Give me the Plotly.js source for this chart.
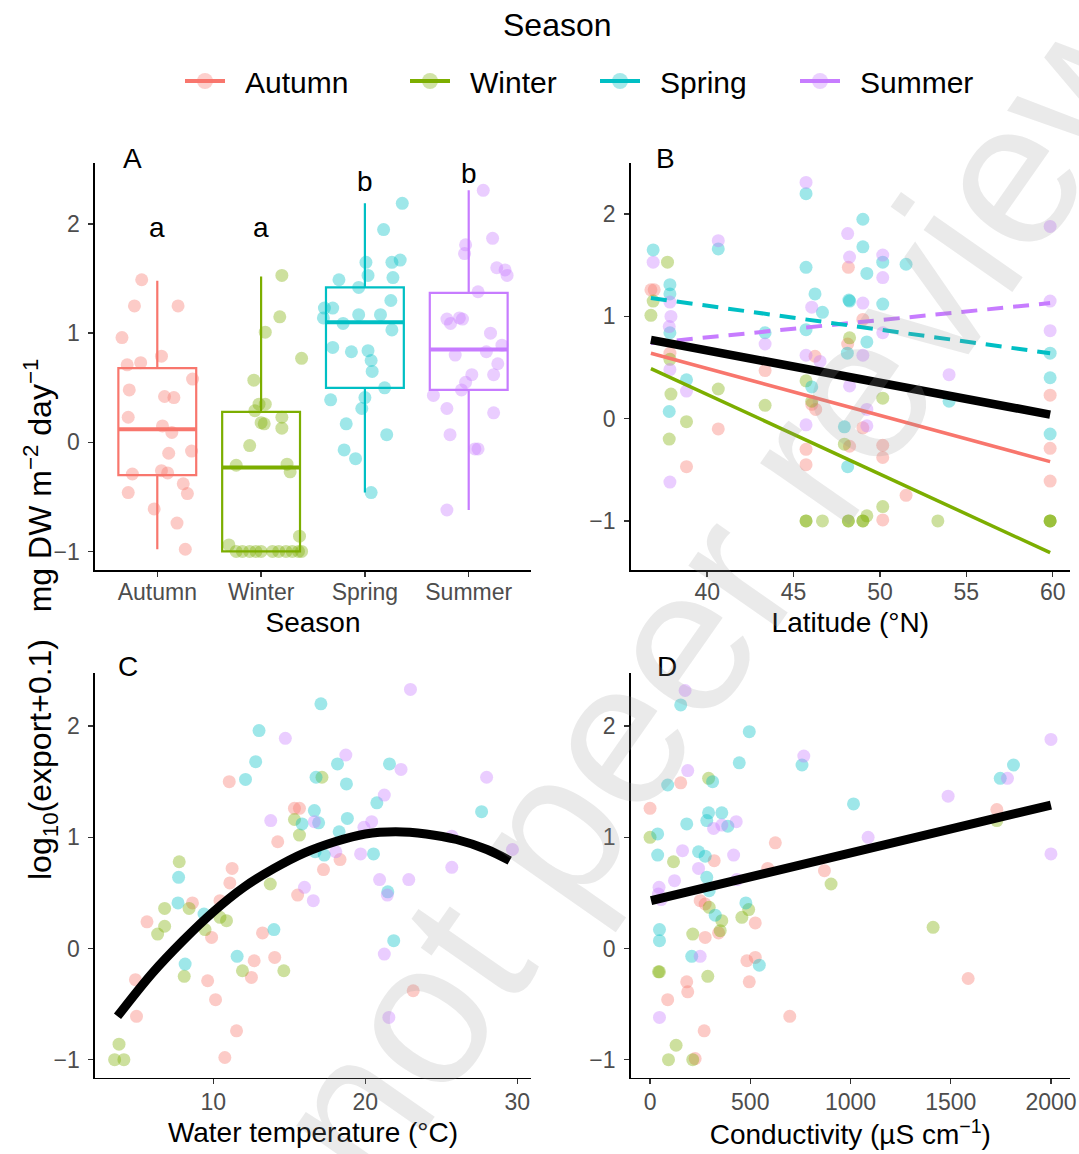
<!DOCTYPE html>
<html><head><meta charset="utf-8">
<script src="https://cdn.plot.ly/plotly-3.0.1.min.js"></script>
<style>html,body{margin:0;padding:0;background:#fff}</style>
</head><body><div id="chart" style="width:1079px;height:1154px"></div>
<script>
const seasons = ['Autumn','Winter','Spring','Summer'];
const colors = ['#F8766D','#7CAE00','#00BFC4','#C77CFF'];

// Panel A: boxplot stats per season
const boxQ1  = [-0.30, -1.00, 0.50, 0.48];
const boxMed = [ 0.12, -0.23, 1.10, 0.85];
const boxQ3  = [ 0.68,  0.28, 1.42, 1.37];
const boxLo  = [-0.98, -1.00, -0.46, -0.62];
const boxHi  = [ 1.48,  1.52, 2.19, 2.31];
const groupLetters = ['a','a','b','b'];
const letterY = [1.97, 1.97, 2.39, 2.46];

// Panel A: jittered points (horizontal jitter offset, value)
const autumnA_dx = [-0.15,-0.22,0.20,-0.34,0.04,-0.29,-0.16,0.34,-0.27,0.07,0.16,-0.28,0.05,0.14,0.33,0.11,-0.24,0.04,0.10,0.25,0.29,-0.28,-0.03,0.19,0.27];
const autumnA_y  = [1.49,1.25,1.25,0.96,0.79,0.71,0.73,0.58,0.48,0.42,0.41,0.23,0.15,0.09,-0.08,-0.10,-0.29,-0.26,-0.28,-0.38,-0.47,-0.46,-0.61,-0.74,-0.98];
const winterA_dx = [0.20,0.18,0.04,0.39,-0.07,-0.02,0.04,-0.06,0.20,0.00,0.03,0.20,-0.11,-0.24,0.25,0.28,0.37,-0.31,-0.24,-0.18,-0.11,-0.05,0.00,0.11,0.17,0.24,0.30,0.36,0.39];
const winterA_y  = [1.53,1.15,1.01,0.77,0.57,0.35,0.35,0.29,0.23,0.18,0.17,0.13,-0.03,-0.21,-0.20,-0.27,-0.86,-0.94,-1,-1,-1,-1,-1,-1,-1,-1,-1,-1,-1];
const springA_dx = [0.36,0.18,0.01,0.26,0.34,0.03,0.27,-0.25,-0.06,-0.39,-0.31,-0.40,-0.21,-0.06,0.15,0.25,0.26,-0.31,-0.13,0.03,0.06,0.07,0.19,-0.33,0.00,-0.03,-0.18,0.21,-0.20,-0.09,0.06];
const springA_y  = [2.19,1.95,1.65,1.65,1.67,1.53,1.51,1.49,1.42,1.23,1.23,1.14,1.09,1.17,1.17,1.30,1.03,0.87,0.83,0.84,0.75,0.65,0.50,0.39,0.41,0.31,0.17,0.07,-0.07,-0.15,-0.46];
const summerA_dx = [0.14,0.23,-0.03,-0.04,0.27,0.35,0.37,0.09,-0.21,-0.175,-0.09,-0.06,0.21,0.32,0.17,-0.13,0.28,0.03,0.24,-0.03,-0.07,-0.34,-0.21,0.24,-0.18,0.06,0.09,-0.21];
const summerA_y  = [2.31,1.87,1.81,1.73,1.60,1.58,1.53,1.38,1.13,1.09,1.14,1.13,1.00,0.89,0.83,0.80,0.72,0.62,0.62,0.55,0.48,0.43,0.31,0.27,0.07,-0.06,-0.06,-0.62];

// Panel B: latitude
const autumnB_lat = [36.74,36.93,37.84,38.8,40.64,43.35,45.72,45.72,46.24,46.05,46.28,48.17,49.01,48.13,48.24,49.01,50.16,50.16,50.16,51.51,59.85,59.85,59.85];
const autumnB_y   = [1.26,1.26,0.64,-0.47,-0.10,0.47,-0.30,-0.45,0.61,0.14,0.09,1.48,0.97,0.73,-0.27,-0.09,-0.26,-0.38,-0.99,-0.75,0.23,-0.29,-0.61];
const winterB_lat = [37.7,36.74,36.87,37.84,37.9,37.8,38.8,40.64,43.35,45.72,46.05,45.72,45.72,46.67,48.17,48.17,49.01,49.01,49.24,50.16,50.16,47.94,48.24,53.35,59.85,59.85,59.85];
const winterB_y   = [1.53,1.01,1.15,0.58,0.24,-0.20,-0.03,0.29,0.13,0.37,0.17,-1,-1,-1,-1,-1,-1,-1,-0.95,0.20,-0.86,-0.25,0.79,-1,-1,-1,-1];
const springB_lat = [36.87,40.64,37.84,37.84,37.84,38.8,37.8,43.35,45.72,45.72,45.72,46.24,46.67,46.05,49.01,49.01,49.24,48.24,48.2,50.16,50.16,49.24,48.11,47.94,48.13,51.51,54.0,59.85,59.85,59.85];
const springB_y   = [1.65,1.66,1.31,1.22,0.84,0.38,0.07,0.84,2.20,1.48,0.87,1.22,1.04,0.31,1.95,1.68,1.42,1.15,1.16,1.53,1.12,0.75,0.64,-0.08,-0.47,1.51,0.17,0.64,0.40,-0.15];
const summerB_lat = [36.87,37.84,37.9,37.8,37.84,38.8,37.84,40.64,43.35,45.72,46.05,45.72,46.53,45.72,48.13,48.24,49.01,49.01,48.24,49.24,49.24,50.16,50.16,50.16,54.0,59.85,59.85,59.85];
const summerB_y   = [1.53,1.14,1.00,0.90,0.48,0.27,-0.62,1.74,0.73,2.31,1.09,0.62,0.56,-0.06,1.81,1.58,1.13,0.62,0.32,0.09,-0.07,1.60,1.38,0.84,0.43,1.88,1.15,0.86];
// Panel B fitted lines (ends)
const latFit     = [36.74, 59.85];
const allFitB    = [0.77, 0.04];
const autumnFitB = [0.64, -0.42];
const winterFitB = [0.49, -1.31];
const springFitB = [1.18, 0.64];
const summerFitB = [0.74, 1.13];

// Panel C: water temperature
const autumnC_t = [11.05,15.34,15.67,14.24,18.34,17.25,11.24,11.09,15.55,8.63,10.44,5.64,9.89,13.24,12.69,14.04,12.51,9.63,4.88,10.15,4.95,11.53,10.76,23.15];
const autumnC_y = [1.50,1.26,1.26,0.96,0.80,0.71,0.72,0.59,0.48,0.41,0.43,0.24,0.10,0.14,-0.11,-0.08,-0.26,-0.29,-0.28,-0.46,-0.61,-0.74,-0.98,-0.38];
const winterC_t = [7.76,17.15,15.34,15.67,13.75,6.8,8.41,6.8,6.34,9.46,10.44,10.87,8.09,11.92,14.64,3.80,3.51,4.12];
const winterC_y = [0.78,1.54,1.16,1.02,0.58,0.36,0.36,0.20,0.13,0.17,0.28,0.25,-0.25,-0.20,-0.20,-0.86,-1.0,-1.0];
const springC_t = [17.08,13.01,12.79,18.17,12.12,16.76,18.76,21.59,16.65,16.93,15.84,18.82,20.76,27.65,18.28,17.30,16.7,20.54,7.72,7.68,9.39,13.99,11.57,8.15,21.48,21.87];
const springC_y = [2.20,1.96,1.68,1.66,1.52,1.54,1.48,1.66,1.24,1.13,1.12,1.17,1.31,1.23,1.05,0.84,0.87,0.85,0.64,0.41,0.31,0.17,-0.07,-0.14,0.51,0.07];
const summerC_t = [22.97,14.74,18.72,22.35,27.98,21.25,13.78,16.65,20.42,19.91,25.69,18.06,19.69,29.68,25.69,20.94,22.86,16.0,21.45,16.58,21.25,21.55];
const summerC_y = [2.33,1.89,1.74,1.61,1.54,1.38,1.15,1.14,1.14,1.09,1.01,0.87,0.85,0.89,0.73,0.62,0.62,0.55,0.48,0.43,-0.05,-0.62];
// Panel C fitted curve
const tempCurve = [3.7,6,8,10,12,14,16,18,20,22,24,26,28,29.5];
const fitC      = [-0.61,-0.22,0.07,0.33,0.55,0.72,0.86,0.96,1.03,1.05,1.03,0.98,0.89,0.79];

// Panel D: conductivity
const autumnD_c = [0,153,625,320,587,870,1730,250,275,525,342,275,483,525,495,1587,183,188,88,697,270,225];
const autumnD_y = [1.26,1.49,0.95,0.79,0.72,0.70,1.25,0.43,0.40,0.23,0.14,0.10,-0.11,-0.08,-0.30,-0.27,-0.30,-0.39,-0.46,-0.61,-0.74,-0.99];
const winterD_c = [0,292,117,903,492,458,358,350,213,295,1730,1412,42,47,288,130,92,213];
const winterD_y = [1.00,1.53,0.78,0.58,0.35,0.28,0.25,0.16,0.13,0.37,1.15,0.19,-0.21,-0.21,-0.25,-0.87,-1.0,-1.0];
const springD_c = [153,495,445,758,88,312,1747,1813,1015,292,358,283,183,388,38,38,242,275,283,295,325,478,47,47,208,545];
const springD_y = [2.19,1.95,1.67,1.65,1.47,1.50,1.53,1.65,1.30,1.22,1.22,1.15,1.12,1.10,1.03,0.84,0.87,0.83,0.64,0.52,0.30,0.41,0.17,0.07,-0.07,-0.15];
const summerD_c = [175,188,767,1487,1783,2000,1088,2000,430,417,317,162,122,242,45,42,55,433,250,47,358];
const summerD_y = [2.32,1.60,1.73,1.37,1.53,1.88,1.00,0.85,1.14,0.84,1.08,0.88,0.61,0.72,0.55,0.49,0.44,0.62,-0.07,-0.62,1.11];
const condFit = [5, 2000];
const fitD    = [0.43, 1.29];

const FONT = 'Liberation Sans, Arial, Helvetica, sans-serif';
const PT_OP = 0.38, PT_SIZE = 13, BOX_W = 0.75;

function pts(x, y, i, ax) {
  return {type:'scatter', mode:'markers', x:x, y:y, xaxis:'x'+ax, yaxis:'y'+ax,
    marker:{color:colors[i], opacity:PT_OP, size:PT_SIZE, line:{width:0}},
    showlegend:false, hoverinfo:'skip'};
}
function line(x, y, color, width, dash, ax, shape) {
  return {type:'scatter', mode:'lines', x:x, y:y, xaxis:'x'+ax, yaxis:'y'+ax,
    line:{color:color, width:width, dash:dash||'solid', shape:shape||'linear'},
    showlegend:false, hoverinfo:'skip'};
}

const traces = [];
seasons.forEach((s,i)=>{
  traces.push({type:'box', x:[i+1], q1:[boxQ1[i]], median:[boxMed[i]], q3:[boxQ3[i]],
    lowerfence:[boxLo[i]], upperfence:[boxHi[i]], width:BOX_W, whiskerwidth:0,
    line:{color:colors[i], width:2.2}, fillcolor:'rgba(0,0,0,0)', boxpoints:false,
    xaxis:'x', yaxis:'y', showlegend:false, hoverinfo:'skip'});
  // thicker median bar, as in the original boxplot
  traces.push(line([i+1-BOX_W/2, i+1+BOX_W/2], [boxMed[i], boxMed[i]], colors[i], 4, 'solid', ''));
});
const aDx = [autumnA_dx, winterA_dx, springA_dx, summerA_dx];
const aY  = [autumnA_y, winterA_y, springA_y, summerA_y];
seasons.forEach((s,i)=>{
  traces.push(pts(aDx[i].map(d=>i+1+d), aY[i], i, ''));
});
[[autumnB_lat,autumnB_y],[winterB_lat,winterB_y],[springB_lat,springB_y],[summerB_lat,summerB_y]]
  .forEach((d,i)=>traces.push(pts(d[0], d[1], i, '2')));
traces.push(line(latFit, autumnFitB, colors[0], 3.5, 'solid', '2'));
traces.push(line(latFit, winterFitB, colors[1], 3.5, 'solid', '2'));
traces.push(line(latFit, summerFitB, colors[3], 4, '16px,10px', '2'));
traces.push(line(latFit, springFitB, colors[2], 4, '16px,10px', '2'));
traces.push(line(latFit, allFitB, '#000', 8.5, 'solid', '2'));
[[autumnC_t,autumnC_y],[winterC_t,winterC_y],[springC_t,springC_y],[summerC_t,summerC_y]]
  .forEach((d,i)=>traces.push(pts(d[0], d[1], i, '3')));
traces.push(line(tempCurve, fitC, '#000', 9, 'solid', '3', 'spline'));
[[autumnD_c,autumnD_y],[winterD_c,winterD_y],[springD_c,springD_y],[summerD_c,summerD_y]]
  .forEach((d,i)=>traces.push(pts(d[0], d[1], i, '4')));
traces.push(line(condFit, fitD, '#000', 9, 'solid', '4'));
// Legend entries (one small legend per season so each sits where the original puts it)
const legendIds = ['legend','legend2','legend3','legend4'];
seasons.forEach((s,i)=>{
  traces.push({type:'scatter', mode:'lines+markers', name:'\u2002'+s, x:[null], y:[null], xaxis:'x2', yaxis:'y2',
    legend:legendIds[i],
    line:{color:colors[i], width:4}, marker:{color:colors[i], opacity:0.35, size:17}, showlegend:true});
});

const W = 1079, H = 1154;
const colL = [95/W, 531/W], colR = [630.7/W, 1070/W];
const rowT = [1-570/H, 1-163/H], rowB = [1-1077.5/H, 1-672.7/H];

function xax(domain, range, extra) {
  return Object.assign({domain:domain, range:range, showline:true, linecolor:'#000', linewidth:1.6,
    ticks:'outside', ticklen:5, tickwidth:1.5, tickcolor:'#333', showgrid:false, zeroline:false,
    tickfont:{size:23, color:'#4D4D4D', family:FONT}, automargin:false, fixedrange:true}, extra);
}
const axTitle = (t)=>({text:t, font:{size:28, color:'#000', family:FONT}, standoff:8});
const ann = (t, x, y, size, extra)=>Object.assign({text:t, x:x/W, y:1-y/H, xref:'paper', yref:'paper', showarrow:false,
  xanchor:'center', yanchor:'middle', font:{size:size, color:'#000', family:FONT}}, extra||{});
const legendX = [185, 410, 600, 800];
const legendBox = (px)=>({orientation:'h', x:(px-5)/W, xanchor:'left', y:1-55/H, yanchor:'top',
    font:{size:30, color:'#000', family:FONT}, itemwidth:40, bgcolor:'rgba(0,0,0,0)'});

const layout = {
  width:W, height:H, margin:{l:0,r:0,t:0,b:0}, paper_bgcolor:'#fff', plot_bgcolor:'rgba(0,0,0,0)',
  font:{family:FONT}, showlegend:true,
  xaxis:  xax(colL, [0.4,4.6], {anchor:'y', tickvals:[1,2,3,4], ticktext:seasons, ticklabelstandoff:-4, title:axTitle('Season')}),
  yaxis:  xax(rowT, [-1.17,2.56], {anchor:'x', tickvals:[-1,0,1,2], ticklabelstandoff:4}),
  xaxis2: xax(colR, [35.57,61.0], {anchor:'y2', tickvals:[40,45,50,55,60], ticklabelstandoff:-4, title:axTitle('Latitude (°N)')}),
  yaxis2: xax(rowT, [-1.48,2.50], {anchor:'x2', tickvals:[-1,0,1,2], ticklabelstandoff:4}),
  xaxis3: xax(colL, [2.22,30.9], {anchor:'y3', tickvals:[10,20,30], ticklabelstandoff:-2, title:axTitle('Water temperature (°C)')}),
  yaxis3: xax(rowB, [-1.16,2.48], {anchor:'x3', tickvals:[-1,0,1,2], ticklabelstandoff:4}),
  xaxis4: xax(colR, [-96.5,2095], {anchor:'y4', tickvals:[0,500,1000,1500,2000], ticklabelstandoff:-2, title:axTitle('Conductivity (µS cm<sup>−1</sup>)')}),
  yaxis4: xax(rowB, [-1.16,2.48], {anchor:'x4', tickvals:[-1,0,1,2], ticklabelstandoff:4}),
  legend:  legendBox(legendX[0]),
  legend2: legendBox(legendX[1]),
  legend3: legendBox(legendX[2]),
  legend4: legendBox(legendX[3]),
  annotations: [
    ann('Season', 557, 25, 32),
    ann('A', 132, 159, 28), ann('B', 665, 159, 28), ann('C', 128, 666, 28), ann('D', 667, 666, 28),
    ann('log<sub>10</sub>(export+0.1)   mg DW m<sup>−2</sup> day<sup>−1</sup>', 40, 620, 32, {textangle:-90}),
    Object.assign(ann('Preprint not peer reviewed', 563, 808, 205, {textangle:-55}),
      {font:{size:205, color:'rgba(150,150,150,0.2)', family:FONT}})
  ].concat(seasons.map((s,i)=>({text:groupLetters[i], x:i+1, y:letterY[i], xref:'x', yref:'y', showarrow:false,
      xanchor:'center', yanchor:'middle', font:{size:28, color:'#000', family:FONT}})))
};

Plotly.newPlot('chart', traces, layout, {displayModeBar:false, staticPlot:true});
</script></body></html>
